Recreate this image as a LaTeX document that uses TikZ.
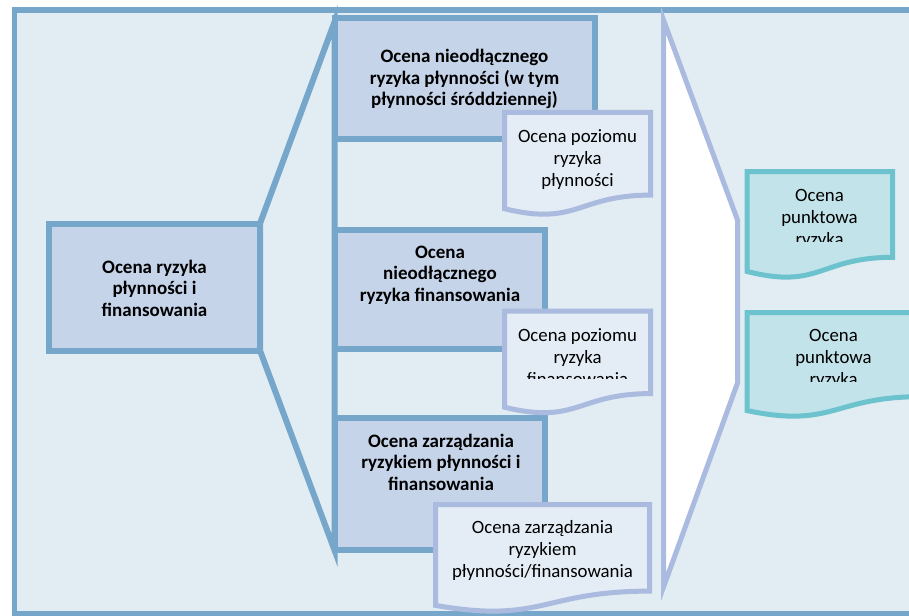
\documentclass[tikz,border=0pt]{standalone}
\usepackage{fontspec}
\setmainfont{Carlito}
\definecolor{bg}{HTML}{E2ECF3}
\definecolor{steel}{HTML}{76A7CA}
\definecolor{boxfill}{HTML}{C6D4EA}
\definecolor{lav}{HTML}{AABBDF}
\definecolor{docfill}{HTML}{E4EDF5}
\definecolor{tealline}{HTML}{6CC3CD}
\definecolor{tealfill}{HTML}{C1E3E9}
\newcommand{\docshape}[5]{%
  \draw[#1] (#2,#3) -- ({#2+#4},#3) -- ({#2+#4},{#3+0.802*#5})
    .. controls ({#2+0.5*#4},{#3+0.802*#5}) and ({#2+0.5*#4},{#3+1.107*#5})
    .. (#2,{#3+0.934*#5}) -- cycle;}
\tikzset{
  stbox/.style={draw=steel, line width=6pt, fill=boxfill, inner sep=0pt, outer sep=0pt},
  boldtxt/.style={font=\fontsize{19}{21.5}\selectfont\bfseries, align=center, inner sep=0pt},
  regtxt/.style={font=\fontsize{18.8}{22}\selectfont, align=center, inner sep=0pt},
  lavdoc/.style={draw=lav, line width=5pt, fill=docfill, line join=miter},
  tealdoc/.style={draw=tealline, line width=5pt, fill=tealfill, line join=miter},
}
\begin{document}
\begin{tikzpicture}[x=1pt, y=-1pt]
\clip (0,0) rectangle (909,615);
\fill[white] (0,0) rectangle (909,615);
% outer frame
\draw[draw=steel, line width=5.5pt, fill=bg] (14.5,10) rectangle (940,613.5);
% left funnel
\draw[draw=steel, line width=6pt, fill=bg, line join=miter, miter limit=20]
  (260,223.5) -- (334.5,22) -- (334.5,550) -- (260,350.5) -- cycle;
% left box
\node[stbox, minimum width=211pt, minimum height=127pt] (b0) at (154.5,287) {};
\node[boldtxt] (t0) at (154.5,288) {Ocena ryzyka\\płynności i\\finansowania};
% column boxes
\node[stbox, minimum width=260pt, minimum height=121pt] (b1) at (464.5,78.5) {};
\node[stbox, minimum width=210.5pt, minimum height=118.5pt] (b2) at (439.75,289.25) {};
\node[stbox, minimum width=210.5pt, minimum height=132pt] (b3) at (439.75,484) {};
\node[boldtxt] (t1) at (464.5,79) {Ocena nieodłącznego\\ryzyka płynności (w tym\\płynności śróddziennej)};
\node[boldtxt] (t2) at (440,275) {Ocena\\nieodłącznego\\ryzyka finansowania};
\node[boldtxt] (t3) at (441,462) {Ocena zarządzania\\ryzykiem płynności i\\finansowania};
% lavender documents
\docshape{lavdoc}{504.5}{112.5}{146}{103}
\docshape{lavdoc}{504.5}{311}{146}{103}
\docshape{lavdoc}{435.5}{504.5}{214}{108}
\node[regtxt] (d1) at (577.5,160) {Ocena poziomu\\ryzyka\\płynności};
\begin{scope}
\clip (500,300) rectangle (660,378);
\node[regtxt] (d2) at (577.5,357) {Ocena poziomu\\ryzyka\\finansowania};
\end{scope}
\node[regtxt] (d3) at (542.5,550) {Ocena zarządzania\\ryzykiem\\płynności/finansowania};
% right funnel
\draw[draw=lav, line width=5pt, fill=white, line join=miter, miter limit=20]
  (663.5,20) -- (737.5,220) -- (737.5,383) -- (663.5,587) -- cycle;
% teal documents
\docshape{tealdoc}{747}{171.5}{145.5}{107}
\docshape{tealdoc}{747}{312.5}{173}{105}
\begin{scope}
\clip (740,160) rectangle (900,241.5);
\node[regtxt] (p1) at (819.5,219) {Ocena\\punktowa\\ryzyka};
\end{scope}
\begin{scope}
\clip (740,300) rectangle (909,381.5);
\node[regtxt] (p2) at (833.5,359) {Ocena\\punktowa\\ryzyka};
\end{scope}
\end{tikzpicture}
\end{document}
